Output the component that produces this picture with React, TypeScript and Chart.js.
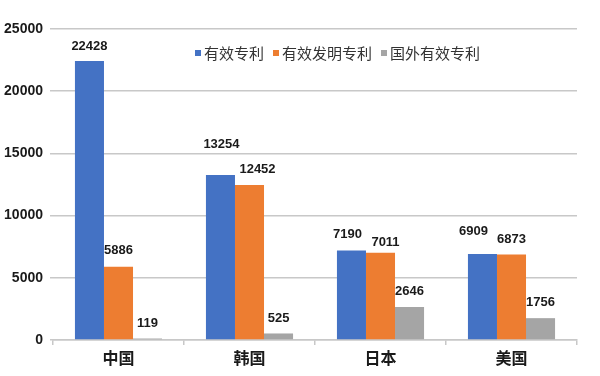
import React, { useEffect, useRef } from "react";
import { Chart, registerables } from "chart.js";

Chart.register(...registerables);

const categories = ["中国", "韩国", "日本", "美国"];
const seriesNames = ["有效专利", "有效发明专利", "国外有效专利"];
const validPatents = [22428, 13254, 7190, 6909];
const inventionPatents = [5886, 12452, 7011, 6873];
const foreignPatents = [119, 525, 2646, 1756];
const yTicks = [0, 5000, 10000, 15000, 20000, 25000];
const colors = ["#4472C4", "#ED7D31", "#A5A5A5"];

// label nudges (layout only), per series per category: [dx, dy]
const labelNudges = [
  [[0, -15], [1, -31], [-4, -16], [-9, -23]],
  [[0, -16], [8, -16], [5, -10], [0, -15]],
  [[0, -15], [0, -15], [0, -16], [0, -16]],
];

const FONT = '"Liberation Sans", Arial, "Noto Sans CJK SC", sans-serif';

const labelPlugin = {
  id: "barLabels",
  afterDatasetsDraw(chart: any) {
    const ctx = chart.ctx;
    ctx.save();
    ctx.font = `bold 13px ${FONT}`;
    ctx.fillStyle = "#1a1a1a";
    ctx.textAlign = "center";
    ctx.textBaseline = "middle";
    chart.data.datasets.forEach((ds: any, i: number) => {
      const meta = chart.getDatasetMeta(i);
      meta.data.forEach((el: any, j: number) => {
        const [dx, dy] = labelNudges[i][j];
        ctx.fillText(String(ds.data[j]), el.x + dx, el.y + dy);
      });
    });
    ctx.restore();
  },
};

const legendPlugin = {
  id: "innerLegend",
  afterDraw(chart: any) {
    const ctx = chart.ctx;
    const area = chart.chartArea;
    ctx.save();
    ctx.font = `15px "Noto Sans CJK SC", ${FONT}`;
    ctx.textBaseline = "middle";
    ctx.textAlign = "left";
    let x = area.left + 142;
    const y = area.top + 24;
    chart.data.datasets.forEach((ds: any) => {
      ctx.fillStyle = ds.backgroundColor;
      ctx.fillRect(x, y - 3, 6, 6);
      x += 9;
      ctx.fillStyle = "#333333";
      ctx.fillText(ds.label, x, y);
      x += ctx.measureText(ds.label).width + 9;
    });
    ctx.restore();
  },
};

export default function App() {
  const ref = useRef<HTMLCanvasElement>(null);
  useEffect(() => {
    if (!ref.current) return;
    const chart = new Chart(ref.current, {
      type: "bar",
      data: {
        labels: categories,
        datasets: [validPatents, inventionPatents, foreignPatents].map((d, i) => ({
          label: seriesNames[i],
          data: d,
          backgroundColor: colors[i],
          borderWidth: 0,
          categoryPercentage: 0.665,
          barPercentage: 1,
        })),
      },
      options: {
        animation: false,
        responsive: false,
        maintainAspectRatio: false,
        layout: { padding: { left: 0, right: 23, top: 29, bottom: 0 } },
        plugins: {
          legend: { display: false },
          tooltip: { enabled: false },
        },
        scales: {
          x: {
            grid: {
              offset: true,
              drawOnChartArea: false,
              drawTicks: true,
              tickLength: 5,
              color: "#c8c8c8",
              lineWidth: 1.5,
            },
            border: { color: "#c8c8c8", width: 1.5 },
            ticks: {
              font: { family: `"Noto Sans CJK SC", ${FONT}`, size: 16, weight: "bold" },
              color: "#1a1a1a",
              padding: 3,
            },
            afterFit: (s: any) => {
              s.height = 36;
            },
          },
          y: {
            min: 0,
            max: 25000,
            afterBuildTicks: (s: any) => {
              s.ticks = yTicks.map((v) => ({ value: v }));
            },
            grid: {
              color: "#c8c8c8",
              lineWidth: 1.5,
              drawTicks: true,
              tickLength: 3,
            },
            border: { display: false },
            ticks: {
              font: { family: FONT, size: 14, weight: "bold" },
              color: "#1a1a1a",
              padding: 7,
              callback: (v: any) => String(v),
            },
            afterFit: (s: any) => {
              s.width = 53;
            },
          },
        },
      },
      plugins: [labelPlugin, legendPlugin],
    });
    return () => chart.destroy();
  }, []);
  return (
    <div style={{ position: "fixed", left: 0, top: 0, width: 600, height: 376, background: "#fff" }}>
      <canvas ref={ref} width={600} height={376} style={{ width: 600, height: 376 }} />
    </div>
  );
}
